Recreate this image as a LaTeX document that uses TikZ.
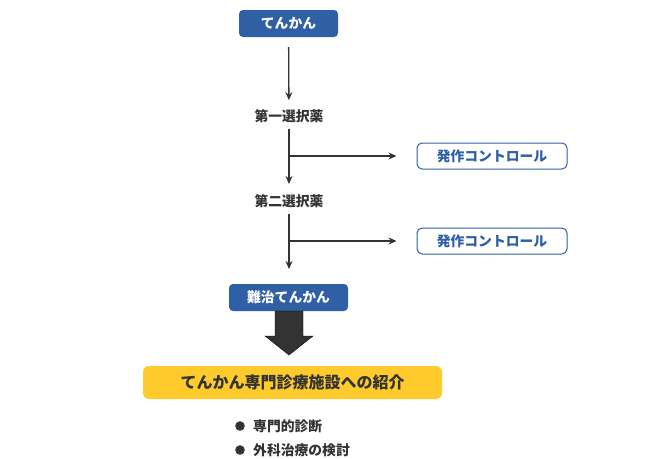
\documentclass[tikz,border=0pt]{standalone}
\usepackage{fontspec}
\setmainfont{Noto Sans CJK JP}
\usetikzlibrary{arrows.meta}
\definecolor{boxblue}{HTML}{2F5FA4}
\definecolor{darktext}{HTML}{333333}
\definecolor{boxyellow}{HTML}{FFCA2C}

\begin{document}
\begin{tikzpicture}[
    x=1pt, y=-1pt,
    every node/.style={color=darktext, font=\fontsize{13.8}{16}\selectfont\bfseries},
    blue box/.style={fill=boxblue, text=white, rounded corners=4pt, minimum width=99pt, minimum height=27pt, inner sep=0pt},
    control box/.style={draw=boxblue, line width=1pt, fill=white, text=boxblue, rounded corners=5pt, minimum width=150pt, minimum height=26pt, inner sep=0pt},
    drug/.style={inner sep=0pt, minimum height=13pt},
    flow/.style={line width=1.3pt, color=darktext, -{Stealth[length=8pt, width=7pt]}},
    big arrow/.style={fill=darktext}
    ]
    \useasboundingbox (0,0) rectangle (650,458);

    % boxes and labels
    \node[blue box] (tenkan) at (288.5,23.5) {てんかん};
    \node[drug] (first) at (289,116) {第一選択薬};
    \node[drug] (second) at (289,201) {第二選択薬};
    \node[blue box, minimum width=119pt] (refractory) at (288.5,297.5) {難治てんかん};
    \node[control box] (controlA) at (492,156) {発作コントロール};
    \node[control box] (controlB) at (492,241) {発作コントロール};
    \node[fill=boxyellow, rounded corners=6pt, minimum width=299pt, minimum height=33pt, inner sep=0pt,
        font=\fontsize{16}{18}\selectfont\bfseries] (referral) at (292.5,382.5) {てんかん専門診療施設への紹介};

    % flow
    \coordinate (endA) at (289,184);
    \coordinate (endB) at (289,269);
    \coordinate (branchA) at (289,156);
    \coordinate (branchB) at (289,241);
    \draw[flow, shorten <=10pt, shorten >=9pt] (tenkan) -- (first);
    \draw[flow, shorten <=6pt] (first) -- (endA);
    \draw[flow, shorten <=6pt] (second) -- (endB);
    \draw[flow, shorten >=20pt] (branchA) -- (controlA);
    \draw[flow, shorten >=20pt] (branchB) -- (controlB);

    % big arrow
    \draw[big arrow] (275,311) -- (303,311) -- (303,336) -- (313,336) -- (289,355)
        -- (265,336) -- (275,336) -- cycle;

    % bullets
    \fill[darktext] (240,426) circle (4.8);
    \fill[darktext] (240,450) circle (4.8);
    \node[anchor=west, inner sep=0pt] (diag) at (253,426) {専門的診断};
    \node[anchor=west, inner sep=0pt] (surg) at (253,450) {外科治療の検討};
\end{tikzpicture}
\end{document}
